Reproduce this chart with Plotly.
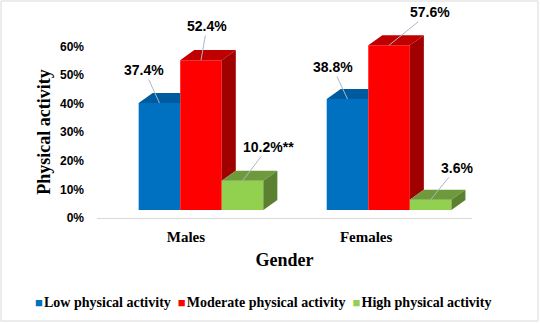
import plotly.graph_objects as go

# ---- data -------------------------------------------------------------
groups = ["Males", "Females"]
levels = ["Low physical activity", "Moderate physical activity", "High physical activity"]
low = [37.4, 38.8]
moderate = [52.4, 57.6]
high = [10.2, 3.6]
high_marks = ["**", ""]          # significance marks appended to the high-activity labels
y_ticks = [0, 10, 20, 30, 40, 50, 60]

series = [low, moderate, high]
marks = [["", ""], ["", ""], high_marks]

# ---- styling ----------------------------------------------------------
front_colors = ["#0070C0", "#FF0000", "#92D050"]
top_colors = ["#005A9E", "#C00000", "#6E9A3C"]
side_colors = ["#004B85", "#A00000", "#5A8030"]
label_offsets = [[(-15, -33), (-15, -32)],
                 [(6, -34), (41, -33)],
                 [(26, -34), (26, -32)]]

group_pos = [0.0, 1.0]
bar_w = 0.221
offsets = [-bar_w, 0.0, bar_w]
depth_x = 0.0745      # oblique depth of the pseudo-3D boxes (x units)
depth_y = 3.5         # oblique depth (y units, %)

SANS = "Liberation Sans"
SERIF = "Liberation Serif"

fig = go.Figure()

# front faces of the columns
for k, (name, vals) in enumerate(zip(levels, series)):
    fig.add_trace(go.Bar(
        x=[g + offsets[k] for g in group_pos], y=vals, width=bar_w,
        name=name, marker=dict(color=front_colors[k], line=dict(width=0)),
        hoverinfo="skip", showlegend=False,
    ))

# top and side faces, trimmed where the next column hides them
for gi, g in enumerate(group_pos):
    for k in range(3):
        v = series[k][gi]
        x0 = g + offsets[k] - bar_w / 2
        x1 = x0 + bar_w
        nxt = series[k + 1][gi] if k < 2 else None
        if nxt is not None and nxt >= v:
            tx = [x0, x1, x1, x0 + depth_x, x0]
        else:
            tx = [x0, x1, x1 + depth_x, x0 + depth_x, x0]
        ty = [v, v, v + depth_y, v + depth_y, v]
        fig.add_trace(go.Scatter(x=tx, y=ty, fill="toself", mode="lines",
                                 fillcolor=top_colors[k], line=dict(width=0),
                                 showlegend=False, hoverinfo="skip"))
        if nxt is None:
            sy = [0, depth_y, v + depth_y, v, 0]
        elif nxt < v:
            sy = [nxt, nxt + depth_y, v + depth_y, v, nxt]
        else:
            continue
        sx = [x1, x1 + depth_x, x1 + depth_x, x1, x1]
        fig.add_trace(go.Scatter(x=sx, y=sy, fill="toself", mode="lines",
                                 fillcolor=side_colors[k], line=dict(width=0),
                                 showlegend=False, hoverinfo="skip"))

# empty trace so the percentage axis (y2) is laid out
fig.add_trace(go.Scatter(x=[], y=[], yaxis="y2", showlegend=False, hoverinfo="skip"))

# value labels with leader lines
for k in range(3):
    for gi, g in enumerate(group_pos):
        v = series[k][gi]
        ax, ay = label_offsets[k][gi]
        fig.add_annotation(
            x=g + offsets[k], y=v, xref="x", yref="y",
            text=f"{v:.1f}%{marks[k][gi]}", showarrow=True, arrowhead=0,
            arrowwidth=1, arrowcolor="#A9B8CA", ax=ax, ay=ay, standoff=0,
            font=dict(family=SANS, size=14, color="black", weight="bold"),
        )

W, H = 540, 323
L, R, T, B = 97, 68, 10, 105
pw, ph = W - L - R, H - T - B

# legend row: coloured square + series name
legend_html = "&nbsp;&nbsp;".join(
    f'<span style="color:{c};font-size:13px">■</span>&#8202;{n}'
    for c, n in zip(front_colors, levels)
)
fig.add_annotation(
    xref="paper", yref="paper", x=(263 - L) / pw, y=(H - B - 302) / ph,
    xanchor="center", yanchor="middle", showarrow=False, text=legend_html,
    font=dict(family=SERIF, size=14, color="black", weight="bold"),
)

# outer frame of the chart
fig.add_shape(type="rect", xref="paper", yref="paper",
              x0=(1 - L) / pw, x1=(W - 2 - L) / pw,
              y0=(H - B - (H - 2)) / ph, y1=(H - B - 1) / ph,
              line=dict(color="#D9D9D9", width=1), fillcolor="rgba(0,0,0,0)")

scale = ph / (69.93 + 2.8)
fig.update_layout(
    width=W, height=H,
    margin=dict(l=L, r=R, t=T, b=B, autoexpand=False),
    paper_bgcolor="white", plot_bgcolor="rgba(0,0,0,0)",
    barmode="overlay",
    showlegend=False,
    xaxis=dict(range=[-0.553, 1.441], tickvals=[-0.08, 0.878], ticktext=groups,
               showgrid=False, zeroline=False, showline=True,
               linecolor="#D9D9D9", linewidth=1, ticks="", ticklabelstandoff=5,
               tickfont=dict(family=SERIF, size=15, color="black", weight="bold"),
               title=dict(text="Gender", standoff=9,
                          font=dict(family=SERIF, size=18, color="black", weight="bold"))),
    yaxis=dict(range=[-2.8, 69.93], visible=False, fixedrange=True),
    yaxis2=dict(anchor="x", domain=[0, 60.2 * scale / ph], range=[0, 60.2],
                tickvals=y_ticks, ticktext=[f"{t}%" for t in y_ticks],
                showgrid=False, zeroline=False, showline=False, ticks="",
                ticklabelstandoff=12,
                tickfont=dict(family=SANS, size=12, color="black", weight="bold"),
                title=dict(text="Physical activity", standoff=4,
                           font=dict(family=SERIF, size=18, color="black", weight="bold"))),
)

fig.write_html("out.html")
